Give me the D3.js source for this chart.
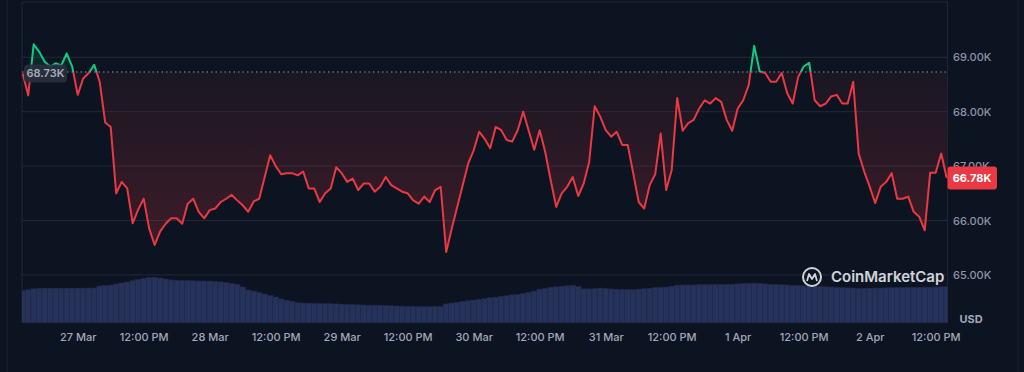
<!DOCTYPE html>
<html>
<head>
<meta charset="utf-8">
<script src="https://cdn.jsdelivr.net/npm/d3@7"></script>
<style>
  html, body { margin: 0; padding: 0; background: #0d1421; }
  svg { display: block; font-family: Inter, "Noto Sans", sans-serif; }
</style>
</head>
<body>
<div class="chart"></div>
<script>
// hourly BTC price (thousands USD), 26 Mar 2024 14:00 -> 2 Apr 2024 14:00
const startTime = new Date(2024, 2, 26, 14, 0);
const baseline = 68.73;
const lastPrice = 66.78;

const prices = [
  68.70, 68.30, 69.24, 69.10, 68.92, 68.83, 68.89, 68.85, 69.07, 68.83,
  68.31, 68.61, 68.71, 68.86, 68.55, 67.80, 67.72, 66.50, 66.71, 66.59,
  65.95, 66.20, 66.40, 65.85, 65.55, 65.80, 65.94, 66.04, 66.04, 65.94,
  66.31, 66.40, 66.16, 66.04, 66.19, 66.22, 66.34, 66.40, 66.47, 66.37,
  66.28, 66.16, 66.35, 66.40, 66.80, 67.20, 67.00, 66.85, 66.87, 66.87,
  66.83, 66.90, 66.59, 66.59, 66.34, 66.50, 66.59, 66.98, 66.87, 66.71,
  66.77, 66.56, 66.68, 66.68, 66.53, 66.62, 66.80, 66.65, 66.59, 66.53,
  66.50, 66.37, 66.31, 66.44, 66.34, 66.56, 66.62, 65.42, 65.85, 66.25,
  66.65, 67.05, 67.29, 67.63, 67.50, 67.33, 67.72, 67.66, 67.48, 67.45,
  67.66, 68.00, 67.65, 67.30, 67.66, 67.26, 66.74, 66.25, 66.50, 66.62,
  66.80, 66.45, 66.68, 67.08, 68.10, 67.91, 67.66, 67.54, 67.63, 67.39,
  67.39, 66.87, 66.34, 66.22, 66.65, 66.85, 67.60, 66.56, 66.93, 68.25,
  67.65, 67.79, 67.85, 68.06, 68.21, 68.15, 68.25, 68.18, 67.85, 67.65,
  68.06, 68.21, 68.49, 69.21, 68.74, 68.71, 68.55, 68.55, 68.71, 68.34,
  68.15, 68.64, 68.83, 68.90, 68.21, 68.10, 68.15, 68.28, 68.31, 68.15,
  68.15, 68.55, 67.23, 66.90, 66.62, 66.32, 66.62, 66.71, 66.87, 66.40,
  66.40, 66.44, 66.16, 66.07, 65.82, 66.88, 66.88, 67.23, 66.78
];

// 24h volume (billions USD), same hours
const volumes = [
  21.4, 21.9, 22.6, 22.9, 23.0, 23.0, 23.0, 23.0, 23.0, 23.0,
  23.0, 23.0, 23.1, 23.1, 24.5, 24.8, 25.1, 25.8, 26.5, 27.1,
  28.0, 28.8, 29.5, 30.1, 30.3, 29.8, 29.1, 28.5, 28.2, 28.1,
  28.0, 27.9, 27.8, 27.8, 27.7, 27.5, 27.1, 26.7, 26.1, 25.5,
  23.8, 21.8, 21.1, 20.1, 19.1, 18.1, 17.1, 15.8, 14.8, 14.1,
  13.3, 13.1, 13.0, 12.9, 12.8, 12.7, 12.6, 12.5, 12.3, 12.1,
  12.1, 11.9, 11.8, 11.7, 11.7, 11.5, 11.4, 11.3, 11.1, 11.0,
  10.9, 10.8, 10.7, 10.7, 10.7, 10.7, 10.7, 12.5, 13.1, 13.6,
  14.1, 14.6, 15.1, 15.6, 16.1, 16.6, 17.0, 17.5, 17.9, 18.5,
  18.9, 19.4, 20.1, 21.1, 22.3, 22.9, 23.5, 23.9, 24.3, 24.5,
  24.8, 24.1, 22.5, 22.5, 22.7, 23.1, 22.8, 22.5, 22.3, 22.2,
  22.1, 22.0, 22.3, 22.6, 22.9, 23.3, 23.5, 23.8, 24.3, 24.9,
  25.1, 25.1, 25.1, 25.3, 25.3, 25.4, 25.5, 25.5, 25.6, 25.6,
  25.8, 26.0, 26.2, 26.3, 26.1, 25.8, 25.6, 25.4, 25.2, 25.1,
  24.9, 24.8, 24.6, 24.5, 24.3, 24.1, 23.9, 23.8, 23.6, 23.4,
  23.2, 23.1, 22.9, 22.9, 23.0, 23.1, 23.1, 23.2, 23.3, 23.3,
  23.4, 23.5, 23.5, 23.6, 23.7, 23.7, 23.8, 23.9, 24.0
];

const priceTicks = [65, 66, 67, 68, 69];

const data = prices.map((p, i) => ({
  t: d3.timeHour.offset(startTime, i),
  p: p,
  v: volumes[i]
}));

const width = 1024, height = 372;
const plot = {left: 22, right: 947.5, top: 2, bottom: 322.7};

const svg = d3.select('.chart').append('svg')
  .attr('width', width)
  .attr('height', height);

const xScale = d3.scaleTime()
  .domain([startTime, d3.timeHour.offset(startTime, prices.length - 1)])
  .range([22.7, 946.7]);
const yScale = d3.scaleLinear()
  .domain([65, 69])
  .range([274.9, 57.3]);
const vScale = d3.scaleLinear()
  .domain([0, 50])
  .range([plot.bottom, plot.bottom - 75]);

const defs = svg.append('defs');
const baseY = yScale(baseline);

defs.append('clipPath').attr('id', 'plotClip')
  .append('rect')
  .attr('x', plot.left).attr('y', plot.top)
  .attr('width', plot.right - plot.left).attr('height', plot.bottom - plot.top);
defs.append('clipPath').attr('id', 'aboveClip')
  .append('rect')
  .attr('x', 0).attr('y', 0).attr('width', width).attr('height', baseY);
defs.append('clipPath').attr('id', 'belowClip')
  .append('rect')
  .attr('x', 0).attr('y', baseY).attr('width', width).attr('height', height - baseY);

const redGrad = defs.append('linearGradient').attr('id', 'redGrad')
  .attr('gradientUnits', 'userSpaceOnUse')
  .attr('x1', 0).attr('x2', 0).attr('y1', baseY).attr('y2', yScale(65.4));
redGrad.append('stop').attr('offset', '0%').attr('stop-color', '#ea3943').attr('stop-opacity', 0.06);
redGrad.append('stop').attr('offset', '100%').attr('stop-color', '#ea3943').attr('stop-opacity', 0.22);

const greenGrad = defs.append('linearGradient').attr('id', 'greenGrad')
  .attr('gradientUnits', 'userSpaceOnUse')
  .attr('x1', 0).attr('x2', 0).attr('y1', baseY).attr('y2', yScale(69.3));
greenGrad.append('stop').attr('offset', '0%').attr('stop-color', '#16c784').attr('stop-opacity', 0.05);
greenGrad.append('stop').attr('offset', '100%').attr('stop-color', '#16c784').attr('stop-opacity', 0.2);

// frame
svg.append('line')
  .attr('x1', 7).attr('x2', 7).attr('y1', 0).attr('y2', height)
  .attr('stroke', '#1a2030');
svg.append('line')
  .attr('x1', 1018).attr('x2', 1018).attr('y1', 0).attr('y2', height)
  .attr('stroke', '#1a2030');
svg.append('rect')
  .attr('x', plot.left).attr('y', plot.top)
  .attr('width', plot.right - plot.left).attr('height', plot.bottom - plot.top)
  .attr('fill', 'none')
  .attr('stroke', '#1f2535');

// gridlines
svg.selectAll('.grid')
  .data(priceTicks)
  .enter()
  .append('line')
  .attr('class', 'grid')
  .attr('x1', plot.left).attr('x2', plot.right)
  .attr('y1', d => yScale(d)).attr('y2', d => yScale(d))
  .attr('stroke', '#222838')
  .attr('stroke-width', 1);

// volume bars
const barW = 5.5;
svg.append('g')
  .attr('clip-path', 'url(#plotClip)')
  .selectAll('rect')
  .data(data)
  .enter()
  .append('rect')
  .attr('x', d => xScale(d.t) - barW / 2)
  .attr('y', d => vScale(d.v))
  .attr('width', barW)
  .attr('height', d => plot.bottom - vScale(d.v))
  .attr('fill', '#26325a')
  .attr('stroke', '#1f2a4c')
  .attr('stroke-width', 0.6);

// area fills
const area = d3.area()
  .x(d => xScale(d.t))
  .y0(baseY)
  .y1(d => yScale(d.p));

svg.append('path')
  .datum(data)
  .attr('clip-path', 'url(#belowClip)')
  .attr('d', area)
  .attr('fill', 'url(#redGrad)');
svg.append('path')
  .datum(data)
  .attr('clip-path', 'url(#aboveClip)')
  .attr('d', area)
  .attr('fill', 'url(#greenGrad)');

// baseline
svg.append('line')
  .attr('x1', plot.left).attr('x2', plot.right)
  .attr('y1', baseY).attr('y2', baseY)
  .attr('stroke', '#8d93a3')
  .attr('stroke-width', 1)
  .attr('stroke-dasharray', '1.5,3');

// price line
const line = d3.line()
  .x(d => xScale(d.t))
  .y(d => yScale(d.p));

svg.append('path')
  .datum(data)
  .attr('clip-path', 'url(#belowClip)')
  .attr('d', line)
  .attr('fill', 'none')
  .attr('stroke', '#ea3943')
  .attr('stroke-width', 2)
  .attr('stroke-linejoin', 'round');
svg.append('path')
  .datum(data)
  .attr('clip-path', 'url(#aboveClip)')
  .attr('d', line)
  .attr('fill', 'none')
  .attr('stroke', '#16c784')
  .attr('stroke-width', 2)
  .attr('stroke-linejoin', 'round');

// y axis
const yAxis = d3.axisRight(yScale)
  .tickValues(priceTicks)
  .tickSize(0)
  .tickPadding(0)
  .tickFormat(d => d.toFixed(2) + 'K');

svg.append('g')
  .attr('class', 'axis y-axis')
  .attr('transform', 'translate(953,0)')
  .call(yAxis)
  .call(g => g.select('.domain').remove())
  .call(g => g.selectAll('text')
    .attr('fill', '#8e95a8')
    .attr('font-size', 11)
    .attr('font-weight', 500)
    .attr('font-family', 'Inter, sans-serif'));

// x axis
const xTicks = d3.timeHour.every(12).range(new Date(2024, 2, 27, 0), new Date(2024, 3, 2, 13));
const xAxis = d3.axisBottom(xScale)
  .tickValues(xTicks)
  .tickSize(0)
  .tickPadding(0)
  .tickFormat(d => d.getHours() === 0 ? d3.timeFormat('%-d %b')(d) : d3.timeFormat('%I:%M %p')(d));

svg.append('g')
  .attr('class', 'axis x-axis')
  .attr('transform', 'translate(0,333)')
  .call(xAxis)
  .call(g => g.select('.domain').remove())
  .call(g => g.selectAll('text')
    .attr('fill', '#a1a7bb')
    .attr('font-size', 11)
    .attr('font-weight', 500)
    .attr('font-family', 'Inter, sans-serif'));

svg.append('text')
  .attr('x', 971).attr('y', 320)
  .attr('dominant-baseline', 'middle')
  .attr('text-anchor', 'middle')
  .attr('fill', '#a1a7bb')
  .attr('font-size', 11)
  .attr('font-weight', 700)
  .text('USD');

// baseline label
svg.append('rect')
  .attr('x', 24).attr('y', 64.5)
  .attr('width', 43).attr('height', 18)
  .attr('rx', 4)
  .attr('fill', '#2a2f3d')
  .attr('opacity', 0.9);
svg.append('text')
  .attr('x', 45.5).attr('y', 74)
  .attr('dominant-baseline', 'middle')
  .attr('text-anchor', 'middle')
  .attr('fill', '#a6acbd')
  .attr('font-size', 11)
  .attr('font-weight', 600)
  .text(baseline.toFixed(2) + 'K');

// last price tag
const lastY = yScale(lastPrice);
svg.append('rect')
  .attr('x', 947.5).attr('y', lastY - 11.5)
  .attr('width', 49.5).attr('height', 23)
  .attr('rx', 3)
  .attr('fill', '#ea3943');
svg.append('text')
  .attr('x', 972).attr('y', lastY + 0.5)
  .attr('dominant-baseline', 'middle')
  .attr('text-anchor', 'middle')
  .attr('fill', '#ffffff')
  .attr('font-size', 11)
  .attr('font-weight', 700)
  .text(lastPrice.toFixed(2) + 'K');

// watermark
const wm = svg.append('g')
  .attr('transform', 'translate(812,277)')
  .attr('opacity', 0.9);
wm.append('circle')
  .attr('r', 9)
  .attr('fill', 'none')
  .attr('stroke', '#e6e8ee')
  .attr('stroke-width', 2);
wm.append('path')
  .attr('d', 'M-5,4 L-3,-3 L0,2 L3,-3 L5,4')
  .attr('fill', 'none')
  .attr('stroke', '#e6e8ee')
  .attr('stroke-width', 1.8)
  .attr('stroke-linejoin', 'round');
wm.append('text')
  .attr('x', 19).attr('y', 1)
  .attr('dominant-baseline', 'middle')
  .attr('fill', '#e6e8ee')
  .attr('font-size', 15)
  .attr('font-weight', 600)
  .text('CoinMarketCap');
</script>
</body>
</html>
